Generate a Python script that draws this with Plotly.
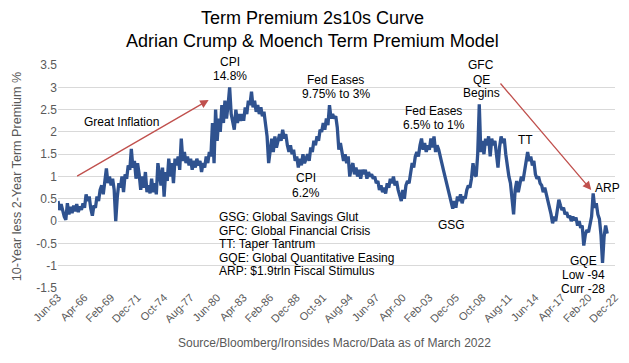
import pandas as pd
import plotly.graph_objects as go

# Bi-monthly readings (Jun-1963 .. Feb-2022), 10y less 2y term premium, %
start_date = "1963-06-01"
term_premium = [
    0.45, 0.25, 0.38, 0.20,                      # 1963
    0.10, 0.03, 0.40, 0.15, 0.32, 0.18,          # 1964
    0.35, 0.22, 0.38, 0.20, 0.33, 0.25,          # 1965
    0.40, 0.30, 0.60, 0.45, 0.55, 0.28,          # 1966
    0.12, 0.35, 0.30, 0.55, 0.45, 0.70,          # 1967
    0.80, 0.60, 0.95, 1.18, 0.85, 1.00,          # 1968
    0.80, 0.95, 0.70, 0.00, 0.55, 0.85,          # 1969
    0.75, 1.00, 0.65, 1.05, 0.95, 1.25,          # 1970
    1.15, 1.62, 1.20, 1.35, 0.95, 1.30,          # 1971
    1.05, 0.70, 1.00, 0.75, 1.10, 0.65,          # 1972
    0.80, 0.62, 0.95, 0.65, 0.85, 0.60,          # 1973
    1.30, 1.00, 0.80, 1.20, 0.55, 1.10,          # 1974
    0.90, 1.40, 1.00, 1.30, 0.85, 1.40,          # 1975
    1.25, 1.45, 1.15, 1.85, 1.35, 1.55,          # 1976
    1.30, 1.45, 1.25, 1.40, 1.15, 1.35,          # 1977
    1.20, 1.40, 1.25, 1.35, 1.10, 1.30,          # 1978
    1.20, 1.45, 1.30, 1.55, 1.45, 2.20,          # 1979
    1.30, 2.50, 1.80, 2.30, 2.00, 2.60,          # 1980
    2.20, 2.70, 2.30, 2.60, 3.00, 2.40,          # 1981
    2.20, 2.05, 2.50, 2.20, 2.40, 2.25,          # 1982
    2.40, 2.25, 2.55, 2.40, 2.70, 2.60,          # 1983
    2.90, 2.55, 2.70, 2.45, 2.60, 2.40,          # 1984
    2.55, 2.35, 2.45, 2.10, 1.90, 1.30,          # 1985
    1.60, 1.85, 1.55, 1.90, 1.65, 1.80,          # 1986
    1.95, 1.80, 2.05, 1.85, 1.95, 1.70,          # 1987
    1.55, 1.70, 1.50, 1.60, 1.35, 1.45,          # 1988
    1.20, 1.40, 1.25, 1.50, 1.30, 1.40,          # 1989
    1.50, 1.35, 1.65, 1.55, 1.80, 1.70,          # 1990
    1.90, 1.80, 2.05, 2.00, 2.20, 2.05,          # 1991
    2.30, 2.15, 2.60, 2.30, 2.40, 2.30,          # 1992
    2.35, 2.10, 1.60, 1.75, 1.50, 1.35,          # 1993
    1.50, 1.30, 1.45, 1.00, 1.20, 1.30,          # 1994
    1.05, 1.20, 1.00, 1.15, 0.95, 1.15,          # 1995
    1.05, 1.15, 0.95, 1.10, 1.00, 1.05,          # 1996
    0.95, 1.00, 0.85, 0.90, 0.70, 0.80,          # 1997
    0.65, 0.75, 0.62, 0.85, 0.75, 0.95,          # 1998
    0.85, 1.00, 0.80, 0.90, 0.70, 0.60,          # 1999
    0.45, 0.70, 0.50, 0.80, 0.90, 0.85,          # 2000
    1.10, 1.30, 1.20, 1.45, 1.55, 1.45,          # 2001
    1.70, 1.85, 1.60, 1.75, 1.55, 1.70,          # 2002
    1.60, 1.85, 1.65, 1.90, 1.55, 1.70,          # 2003
    1.60, 1.40, 1.30, 1.15, 1.00, 0.85,          # 2004
    0.65, 0.50, 0.40, 0.28, 0.45, 0.30,          # 2005
    0.55, 0.45, 0.60, 0.40, 0.55, 0.50,          # 2006
    0.70, 0.80, 0.75, 0.95, 1.30, 1.05,          # 2007
    1.00, 1.50, 2.62, 1.55, 1.80, 1.50,          # 2008
    1.85, 1.70, 1.90, 1.45, 1.85, 1.70,          # 2009
    1.80, 1.55, 1.20, 1.65, 1.90, 1.75,          # 2010
    1.85, 1.50, 1.20, 1.00, 0.85, 0.45,          # 2011
    0.15, 0.70, 0.90, 0.65, 0.85, 1.00,          # 2012
    0.90, 1.10, 1.30, 1.55, 1.35, 1.45,          # 2013
    1.25, 1.35, 1.05, 0.95, 1.00, 0.85,          # 2014
    0.80, 0.65, 0.75, 0.60, 0.50, 0.30,          # 2015
    0.15, -0.05, 0.10, 0.00, 0.20, 0.48,         # 2016
    0.35, 0.25, 0.30, 0.15, 0.20, 0.08,          # 2017
    0.12, 0.00, 0.10, 0.02, 0.08, -0.10,         # 2018
    0.00, -0.15, -0.10, -0.55, -0.30, -0.20,     # 2019
    -0.25, -0.05, 0.10, 0.62, 0.30, 0.40,        # 2020
    0.15, 0.05, -0.30, -0.94, -0.35, -0.10,      # 2021
    -0.28,                                       # 2022
]

x_tick_labels = ["Jun-63", "Apr-66", "Feb-69", "Dec-71", "Oct-74", "Aug-77",
                 "Jun-80", "Apr-83", "Feb-86", "Dec-88", "Oct-91", "Aug-94",
                 "Jun-97", "Apr-00", "Feb-03", "Dec-05", "Oct-08", "Aug-11",
                 "Jun-14", "Apr-17", "Feb-20", "Dec-22"]
y_tick_values = [-1.5, -1, -0.5, 0, 0.5, 1, 1.5, 2, 2.5, 3, 3.5]
y_tick_labels = ["-1.5", "-1", "-0.5", "0", "0.5", "1", "1.5", "2", "2.5", "3", "3.5"]

dates = pd.date_range(start_date, periods=len(term_premium), freq="2MS")


def parse_label(s):
    d = pd.to_datetime(s, format="%b-%y")
    if d.year > 2030:
        d = d.replace(year=d.year - 100)
    return d


x_tick_vals = [parse_label(s) for s in x_tick_labels]

FONT = "Liberation Sans, Arial, sans-serif"
GREY = "#595959"
BLUE = "#2F528F"
RED = "#C0504D"

fig = go.Figure()
fig.add_trace(go.Scatter(x=dates, y=term_premium, mode="lines",
                         line=dict(color=BLUE, width=3.3), hoverinfo="skip"))

L, R, T, B = 58, 9, 65, 75
W, H = 629, 363
PW, PH = W - L - R, H - T - B


def P(px, py):
    return (px - L) / PW, (H - B - py) / PH


annotations = []


def text(px, py, s, size=12, color="black", xanchor="center", angle=0):
    x, y = P(px, py)
    annotations.append(dict(x=x, y=y, xref="paper", yref="paper", text=s,
                            showarrow=False, xanchor=xanchor, yanchor="middle",
                            textangle=angle,
                            font=dict(family=FONT, size=size, color=color)))


# title
text(315, 18, "Term Premium 2s10s Curve", size=18)
text(315, 41, "Adrian Crump & Moench Term Premium Model", size=18)
# axis title & source
text(17, 176, "10-Year less 2-Year Term Premium %", size=12.6, color=GREY, angle=-90)
text(337, 343, "Source/Bloomberg/Ironsides Macro/Data as of March 2022", size=12, color=GREY)

# event labels
text(122, 122, "Great Inflation")
text(232, 62, "CPI")
text(232, 76, "14.8%")
text(338, 80, "Fed Eases")
text(338, 94, "9.75% to 3%")
text(308, 178, "CPI")
text(308, 193, "6.2%")
text(437, 111, "Fed Eases")
text(437, 125, "6.5% to 1%")
text(485, 65, "GFC")
text(485, 80, "QE")
text(485, 93, "Begins")
text(530, 140, "TT")
text(455, 225, "GSG")
text(612, 188, "ARP")
text(588, 261, "GQE")
text(588, 275, "Low -94")
text(588, 289, "Curr -28")

legend_lines = ["GSG: Global Savings Glut", "GFC: Global Financial Crisis",
                "TT: Taper Tantrum", "GQE: Global Quantitative Easing",
                "ARP: $1.9trln Fiscal Stimulus"]
for i, s in enumerate(legend_lines):
    text(218, 217 + i * 13.6, s, xanchor="left")


def arrow(hx, hy, tx, ty):
    x, y = P(hx, hy)
    annotations.append(dict(x=x, y=y, xref="paper", yref="paper", text="",
                            showarrow=True, ax=tx - hx, ay=ty - hy,
                            arrowhead=2, arrowsize=1.3, arrowwidth=1.3,
                            arrowcolor=RED, standoff=0))


arrow(210, 100, 77, 177)
arrow(596, 190, 504, 82)

fig.update_layout(
    width=W, height=H,
    margin=dict(l=L, r=R, t=T, b=B),
    paper_bgcolor="white", plot_bgcolor="white",
    showlegend=False,
    font=dict(family=FONT, size=12, color=GREY),
    annotations=annotations,
    xaxis=dict(type="date", range=[x_tick_vals[0], x_tick_vals[-1]],
               tickmode="array", tickvals=x_tick_vals, ticktext=x_tick_labels,
               tickangle=-45, tickfont=dict(family=FONT, size=11, color=GREY),
               showgrid=False, zeroline=False, showline=False, ticks=""),
    yaxis=dict(range=[-1.5, 3.5], tickmode="array", tickvals=y_tick_values,
               ticktext=y_tick_labels, tickfont=dict(family=FONT, size=12, color=GREY),
               showgrid=True, gridcolor="#D9D9D9", gridwidth=1,
               zeroline=False, showline=False, ticks=""),
)

fig.write_html("out.html", config={"displayModeBar": False},
               post_script="document.body.style.margin='0';")
